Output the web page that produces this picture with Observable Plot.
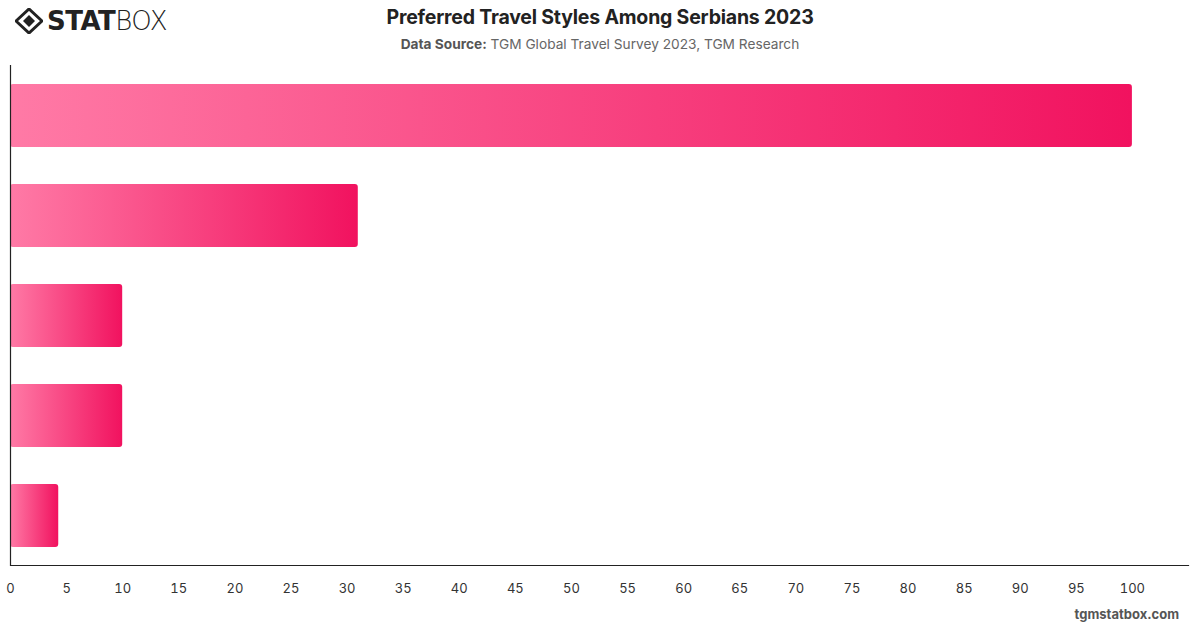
<!DOCTYPE html>
<html>
<head>
<meta charset="utf-8">
<script src="https://cdn.jsdelivr.net/npm/d3@7"></script>
<script src="https://cdn.jsdelivr.net/npm/@observablehq/plot@0.6"></script>
<style>
  html, body { margin: 0; padding: 0; background: #fff; width: 1200px; height: 628px; overflow: hidden; font-family: Inter, "Open Sans", "Noto Sans", sans-serif; }
  #wrap { position: relative; width: 1200px; height: 628px; }
  #header { height: 60px; position: relative; }
  #title { position: absolute; left: 0; right: 0; top: 5px; text-align: center; font-size: 19.5px; font-weight: 700; color: #222; letter-spacing: -0.2px; }
  #subtitle { position: absolute; left: 0; right: 0; top: 36px; text-align: center; font-size: 13.7px; color: #666; }
  #subtitle b { color: #555; }
  #logo { position: absolute; left: 15px; top: 6px; display: flex; align-items: center; }
  #logo .t1 { font-family: "DejaVu Sans", sans-serif; font-weight: 900; font-size: 26px; color: #222; letter-spacing: -0.5px; margin-left: 4px; }
  #logo .t2 { font-family: "DejaVu Sans", sans-serif; font-weight: 300; font-size: 26px; color: #222; letter-spacing: -0.5px; }
  #footer { position: absolute; right: 21px; top: 606px; font-size: 13px; font-weight: 700; color: #555; }
</style>
</head>
<body>
<div id="wrap">
  <div id="header">
    <div id="logo">
      <svg width="28" height="26" viewBox="0 0 28 26">
        <path d="M14 1 L27 13 L14 25 L1 13 Z" fill="none" stroke="#222" stroke-width="3"/>
        <path d="M14 7 L20 13 L14 19 L8 13 Z" fill="#222"/>
      </svg>
      <span class="t1">STAT</span><span class="t2">BOX</span>
    </div>
    <div id="title">Preferred Travel Styles Among Serbians 2023</div>
    <div id="subtitle"><b>Data Source:</b> TGM Global Travel Survey 2023, TGM Research</div>
  </div>
  <div id="chart"></div>
  <div id="footer">tgmstatbox.com</div>
</div>
<script>
const categories = ["Independent travel", "Package tours", "Backpacking", "Luxury travel", "Cruise travel"];
const values = [100, 31, 10, 10, 4.3];
const xTicks = [0, 5, 10, 15, 20, 25, 30, 35, 40, 45, 50, 55, 60, 65, 70, 75, 80, 85, 90, 95, 100];

const data = categories.map((c, i) => ({category: c, value: values[i]}));

const chart = Plot.plot({
  width: 1200,
  height: 568,
  marginTop: 5,
  marginBottom: 63,
  marginLeft: 10,
  marginRight: 12,
  style: {fontFamily: "Inter, 'Open Sans', sans-serif", fontSize: "13px", color: "#333", background: "#fff"},
  x: {domain: [0, 105], ticks: xTicks, tickSize: 0, tickPadding: 18, label: null},
  y: {domain: categories, paddingInner: 0.37, paddingOuter: 0.185, axis: null},
  marks: [
    Plot.barX(data, {x: "value", y: "category", fill: "url(#barGrad)", rx: 3}),
    Plot.ruleX([0], {stroke: "#222", strokeWidth: 1.2}),
    Plot.frame({anchor: "bottom", stroke: "#222", strokeWidth: 1.2})
  ]
});

const svg = d3.select(chart);
const defs = svg.insert("defs", ":first-child");
const g = defs.append("linearGradient").attr("id", "barGrad").attr("x1", 0).attr("x2", 1).attr("y1", 0).attr("y2", 0);
g.append("stop").attr("offset", "0%").attr("stop-color", "#ff7aa6");
g.append("stop").attr("offset", "100%").attr("stop-color", "#f1125f");

document.getElementById("chart").appendChild(chart);
</script>
</body>
</html>
